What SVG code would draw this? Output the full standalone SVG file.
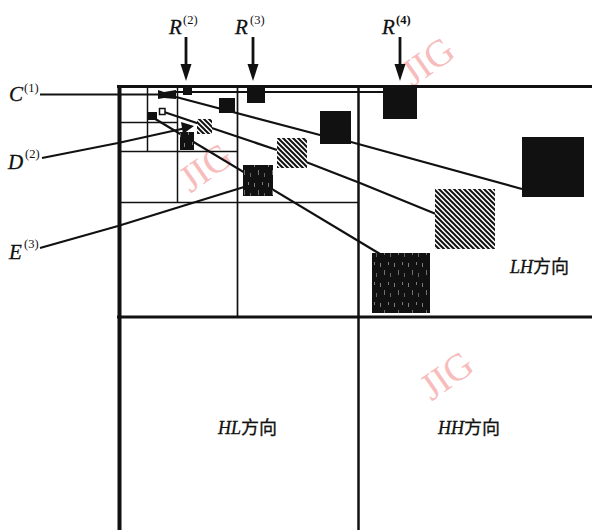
<svg xmlns="http://www.w3.org/2000/svg" width="592" height="530" viewBox="0 0 592 530">
<style>
.lbl{font-family:"Liberation Serif","DejaVu Serif",serif;font-style:italic;font-size:21px;fill:#111;stroke:#111;stroke-width:0.3}
.sup{font-family:"Liberation Serif","DejaVu Serif",serif;font-size:12.5px;fill:#111}
.dir{font-family:"Liberation Serif","Noto Sans CJK SC",serif;font-size:18px;fill:#111;stroke:#111;stroke-width:0.3}
.it{font-style:italic}
.cjk{font-family:"Noto Sans CJK SC",sans-serif;font-size:18px}
.grid{stroke:#111;fill:none}
.conn{stroke:#111;stroke-width:2.2;fill:none}
.arr{stroke:#111;stroke-width:2.8}
.blk{fill:#111}
.wm{font-family:"Liberation Serif",serif;font-size:38px;fill:#f7bcbc}
</style>
<defs>
<pattern id="hatch" width="5" height="5" patternUnits="userSpaceOnUse">
<rect width="5" height="5" fill="#fff"/>
<path d="M-1,-1 L6,6 M-1,4 L1,6 M4,-1 L6,1" stroke="#111" stroke-width="2"/>
</pattern>
<pattern id="noise" width="14" height="20" patternUnits="userSpaceOnUse">
<rect width="14" height="20" fill="#111"/>
<rect x="2" y="3" width="1" height="4" fill="#fff" opacity="0.45"/>
<rect x="6" y="10" width="1" height="5" fill="#fff" opacity="0.4"/>
<rect x="10" y="2" width="1" height="3" fill="#fff" opacity="0.45"/>
<rect x="12" y="13" width="1" height="4" fill="#fff" opacity="0.35"/>
</pattern>
</defs>
<rect width="592" height="530" fill="#fff"/>

<g id="watermarks">
<text class="wm" x="428" y="74" text-anchor="middle" transform="rotate(-35 428 62)">JIG</text>
<text class="wm" x="206" y="180" text-anchor="middle" transform="rotate(-35 206 168)">JIG</text>
<text class="wm" x="447" y="388" text-anchor="middle" transform="rotate(-35 447 376)">JIG</text>
</g>

<g id="grid" class="grid">
<line x1="117" y1="86.5" x2="592" y2="86.5" stroke-width="3"/>
<line x1="119.5" y1="85" x2="119.5" y2="530" stroke-width="4"/>
<line x1="117" y1="317" x2="592" y2="317" stroke-width="3"/>
<line x1="358.5" y1="86" x2="358.5" y2="530" stroke-width="2.5"/>
<line x1="237.5" y1="86" x2="237.5" y2="317" stroke-width="1.7"/>
<line x1="119" y1="202.5" x2="358" y2="202.5" stroke-width="1.6"/>
<line x1="177.5" y1="86" x2="177.5" y2="203" stroke-width="1.5"/>
<line x1="119" y1="151.5" x2="237" y2="151.5" stroke-width="1.5"/>
<line x1="147.5" y1="86" x2="147.5" y2="152" stroke-width="1.5"/>
<line x1="119" y1="122.5" x2="177" y2="122.5" stroke-width="1.5"/>
</g>

<g id="connectors">
<polyline class="conn" points="40,94.5 160,94.5"/>
<line class="conn" x1="176" y1="92" x2="383" y2="92" stroke-width="1.2"/>
<polyline class="conn" points="176,97 320,135 351,142 522,189"/>
<polyline class="conn" points="164,112 277,150"/>
<polyline class="conn" points="306,162 360,183 436,214"/>
<polyline class="conn" points="152,117 380,254"/>
<polyline class="conn" points="42,158 118,143 186,128"/>
<polygon class="blk" points="181,122 194,126 183,134"/>
<polyline class="conn" points="40,248 118,226 244,187"/>
<line class="arr" x1="186" y1="37" x2="186" y2="66"/>
<polygon class="blk" points="180.5,64 191.5,64 186,81"/>
<line class="arr" x1="253" y1="37" x2="253" y2="66"/>
<polygon class="blk" points="247.5,64 258.5,64 253,81"/>
<line class="arr" x1="400" y1="37" x2="400" y2="66"/>
<polygon class="blk" points="394.5,64 405.5,64 400,81"/>
</g>

<g id="C1"><polygon class="blk" points="158,90 164,92 176,90 176,99 164,98 158,99"/></g>
<g id="R2"><rect class="blk" x="183" y="87" width="9" height="8"/></g>
<g id="R3"><rect class="blk" x="247" y="86" width="18" height="17"/></g>
<g id="R4"><rect class="blk" x="383" y="86" width="34" height="33"/></g>
<g id="c2"><rect class="blk" x="219" y="98" width="16" height="15"/></g>
<g id="c3"><rect class="blk" x="320" y="111" width="31" height="33"/></g>
<g id="c4"><rect class="blk" x="522" y="137" width="62" height="60"/></g>
<g id="d1"><rect x="159.5" y="108.5" width="5.5" height="6" fill="#fff" stroke="#111" stroke-width="1.5"/></g>
<g id="d2"><rect x="197" y="119" width="15" height="15" fill="url(#hatch)"/></g>
<g id="d3"><rect x="277" y="138" width="30" height="30" fill="url(#hatch)"/></g>
<g id="d4"><rect x="435" y="189" width="60" height="60" fill="url(#hatch)"/></g>
<g id="e1"><rect class="blk" x="147" y="112" width="10" height="8"/></g>
<g id="e2"><rect x="180" y="132" width="14" height="18" fill="url(#noise)"/></g>
<g id="e3"><rect x="243" y="165" width="30" height="31" fill="url(#noise)"/></g>
<g id="e4"><rect x="372" y="253" width="58" height="60" fill="url(#noise)"/></g>

<g id="labelC"><text class="lbl" x="9" y="101">C</text><text class="sup" x="24" y="92">(1)</text></g>
<g id="labelD"><text class="lbl" x="8" y="169">D</text><text class="sup" x="25" y="158">(2)</text></g>
<g id="labelE"><text class="lbl" x="9" y="259">E</text><text class="sup" x="24" y="248">(3)</text></g>
<g id="labelR2"><text class="lbl" x="169" y="34">R</text><text class="sup" x="183" y="24">(2)</text></g>
<g id="labelR3"><text class="lbl" x="235" y="34">R</text><text class="sup" x="250" y="24">(3)</text></g>
<g id="labelR4"><text class="lbl" x="382" y="34">R</text><text class="sup" x="396" y="24" font-weight="bold">(4)</text></g>
<g id="LH"><text class="dir" x="510" y="273"><tspan class="it">LH</tspan><tspan class="cjk">方向</tspan></text></g>
<g id="HL"><text class="dir" x="218" y="434"><tspan class="it">HL</tspan><tspan class="cjk">方向</tspan></text></g>
<g id="HH"><text class="dir" x="438" y="434"><tspan class="it">HH</tspan><tspan class="cjk">方向</tspan></text></g>
</svg>
